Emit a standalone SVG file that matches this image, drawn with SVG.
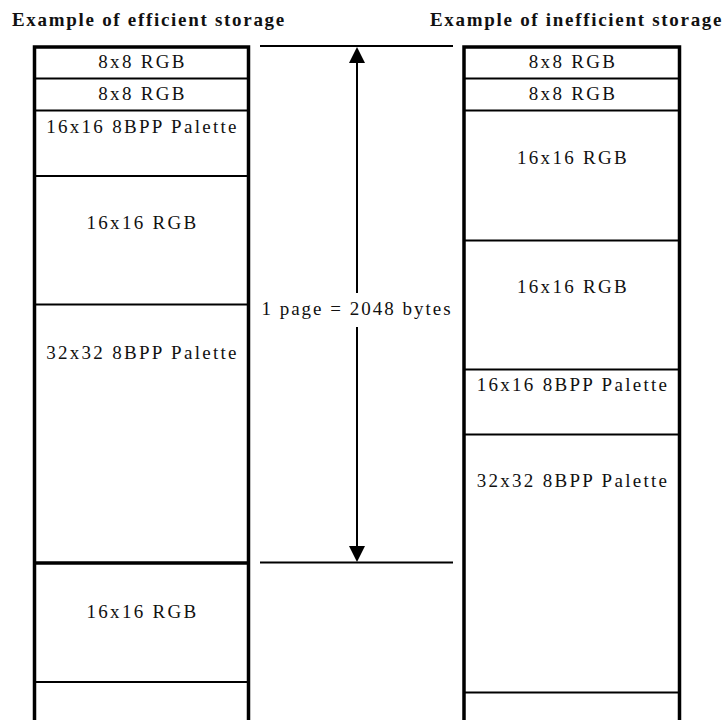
<svg xmlns="http://www.w3.org/2000/svg" width="725" height="720" viewBox="0 0 725 720">
<style>
  .title { font-family: "Liberation Serif", "Times New Roman", serif; font-weight: bold; font-size: 19px; letter-spacing: 1.7px; fill: #111; }
  .lbl { font-family: "Liberation Serif", "Times New Roman", serif; font-size: 19px; letter-spacing: 2.3px; fill: #111; text-anchor: middle; }
  .outer { stroke: #000; stroke-width: 3.5; fill: none; }
  .div { stroke: #000; stroke-width: 2.2; fill: none; }
  .thick { stroke: #000; stroke-width: 3.5; fill: none; }
  .conn { stroke: #000; stroke-width: 2; fill: none; }
  .head { fill: #000; stroke: none; }
</style>
<rect x="0" y="0" width="725" height="720" fill="#fff"/>

<g id="title-efficient">
  <text class="title" x="12" y="26">Example of efficient storage</text>
</g>
<g id="title-inefficient">
  <text class="title" x="430" y="26">Example of inefficient storage</text>
</g>

<g id="column-efficient">
  <path class="outer" d="M34.5,720 V47 H248.5 V720"/>
  <line class="div" x1="34" y1="78.5" x2="249" y2="78.5"/>
  <line class="div" x1="34" y1="110.5" x2="249" y2="110.5"/>
  <line class="div" x1="34" y1="176" x2="249" y2="176"/>
  <line class="div" x1="34" y1="304.5" x2="249" y2="304.5"/>
  <line class="thick" x1="34" y1="563" x2="249" y2="563"/>
  <line class="div" x1="34" y1="682" x2="249" y2="682"/>
  <g id="e-8x8-1"><text class="lbl" x="142.5" y="68">8x8 RGB</text></g>
  <g id="e-8x8-2"><text class="lbl" x="142.5" y="100">8x8 RGB</text></g>
  <g id="e-16pal"><text class="lbl" x="142.5" y="132.7">16x16 8BPP Palette</text></g>
  <g id="e-16rgb-1"><text class="lbl" x="142.5" y="229.3">16x16 RGB</text></g>
  <g id="e-32pal"><text class="lbl" x="142.5" y="359">32x32 8BPP Palette</text></g>
  <g id="e-16rgb-2"><text class="lbl" x="142.5" y="617.7">16x16 RGB</text></g>
</g>

<g id="column-inefficient">
  <path class="outer" d="M464,720 V47 H679.5 V720"/>
  <line class="div" x1="464" y1="78.5" x2="680" y2="78.5"/>
  <line class="div" x1="464" y1="110.5" x2="680" y2="110.5"/>
  <line class="div" x1="464" y1="240.5" x2="680" y2="240.5"/>
  <line class="div" x1="464" y1="369.5" x2="680" y2="369.5"/>
  <line class="div" x1="464" y1="434.5" x2="680" y2="434.5"/>
  <line class="div" x1="464" y1="692.5" x2="680" y2="692.5"/>
  <g id="i-8x8-1"><text class="lbl" x="573" y="68">8x8 RGB</text></g>
  <g id="i-8x8-2"><text class="lbl" x="573" y="100">8x8 RGB</text></g>
  <g id="i-16rgb-1"><text class="lbl" x="573" y="164">16x16 RGB</text></g>
  <g id="i-16rgb-2"><text class="lbl" x="573" y="292.7">16x16 RGB</text></g>
  <g id="i-16pal"><text class="lbl" x="573" y="390.7">16x16 8BPP Palette</text></g>
  <g id="i-32pal"><text class="lbl" x="573" y="487">32x32 8BPP Palette</text></g>
</g>

<g id="connectors">
  <line class="conn" x1="260" y1="46" x2="453" y2="46"/>
  <line class="conn" x1="260" y1="562.5" x2="453" y2="562.5"/>
  <line class="conn" x1="357" y1="60" x2="357" y2="293"/>
  <line class="conn" x1="357" y1="327" x2="357" y2="548"/>
  <polygon class="head" points="357,47 349,63 365,63"/>
  <polygon class="head" points="357,562 349,546 365,546"/>
  <text class="lbl" x="357" y="315" style="letter-spacing:2px">1 page = 2048 bytes</text>
</g>
</svg>
